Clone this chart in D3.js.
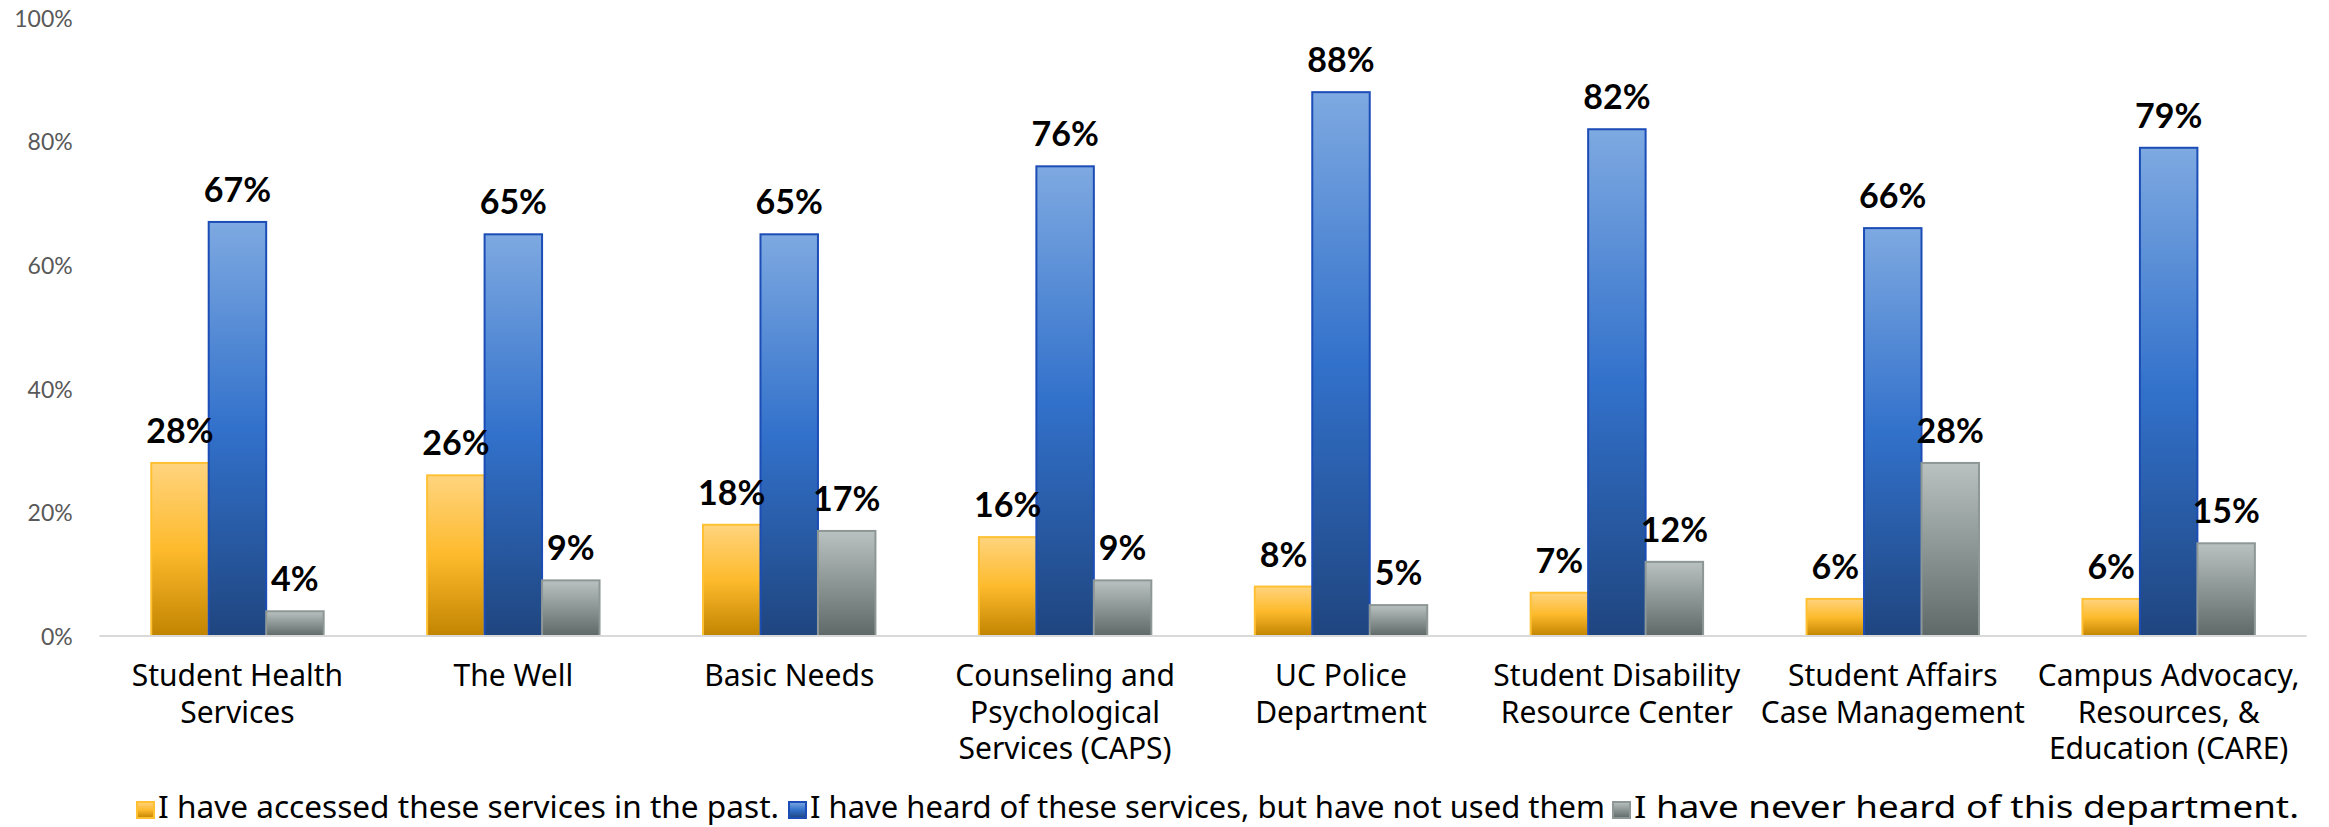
<!DOCTYPE html>
<html>
<head>
<meta charset="utf-8">
<script src="https://cdn.jsdelivr.net/npm/d3@7"></script>
<style>
  html, body { margin: 0; padding: 0; background: #ffffff; }
  svg { display: block; }
</style>
</head>
<body>
<svg id="chart" width="2329" height="827"></svg>
<script>
// ---- data ----
const categories = [
  "Student Health\nServices",
  "The Well",
  "Basic Needs",
  "Counseling and\nPsychological\nServices (CAPS)",
  "UC Police\nDepartment",
  "Student Disability\nResource Center",
  "Student Affairs\nCase Management",
  "Campus Advocacy,\nResources, &\nEducation (CARE)"
];
const seriesNames = [
  "I have accessed these services in the past.",
  "I have heard of these services, but have not used them",
  "I have never heard of this department."
];
const accessed   = [28, 26, 18, 16, 8, 7, 6, 6];
const heardOf    = [67, 65, 65, 76, 88, 82, 66, 79];
const neverHeard = [4, 9, 17, 9, 5, 12, 28, 15];
const yTicks = [0, 20, 40, 60, 80, 100];

const seriesValues = [accessed, heardOf, neverHeard];
const seriesKeys = ["s0", "s1", "s2"];

// ---- layout ----
const W = 2329, H = 827;
const plotLeft = 99.5, plotRight = 2306.6, plotTop = 18, plotBottom = 636;
const legendX = [137, 789, 1613];       // legend item left edges (layout)
const legendTextW = [621, 795, 665];    // legend text widths (layout)

const svg = d3.select("#chart");

// gradients
const defs = svg.append("defs");
const gradSpecs = [
  { id: "g0", stops: [[0, "#FFD47E"], [0.5, "#FDBA2C"], [1, "#C28400"]], stroke: "#FFC133" },
  { id: "g1", stops: [[0, "#7EA9E1"], [0.5, "#3271CB"], [1, "#1F457F"]], stroke: "#1C4DB6" },
  { id: "g2", stops: [[0, "#B9C2C1"], [1, "#5E6968"]], stroke: "#8D9796" }
];
gradSpecs.forEach(g => {
  const lg = defs.append("linearGradient").attr("id", g.id)
    .attr("x1", 0).attr("y1", 0).attr("x2", 0).attr("y2", 1);
  g.stops.forEach(s => lg.append("stop").attr("offset", s[0]).attr("stop-color", s[1]));
});

const x0 = d3.scaleBand().domain(d3.range(categories.length))
  .range([plotLeft, plotRight]).paddingInner(0.375).paddingOuter(0.1875);
const x1 = d3.scaleBand().domain(seriesKeys).range([0, x0.bandwidth()]).padding(0);
const y = d3.scaleLinear().domain([0, 100]).range([plotBottom, plotTop]);

// y-axis labels
const yAxis = d3.axisLeft(y).tickValues(yTicks).tickFormat(d => d + "%").tickSize(0).tickPadding(0);
const yg = svg.append("g").attr("transform", `translate(${72.7},0)`).call(yAxis);
yg.select(".domain").remove();
yg.selectAll("text")
  .attr("font-family", "Lato, 'Noto Sans', sans-serif")
  .attr("font-size", 23)
  .attr("fill", "#595959")
  .attr("dy", "0.36em");

// bars
const groups = svg.append("g").selectAll("g")
  .data(categories.map((c, i) => i))
  .join("g")
  .attr("transform", i => `translate(${x0(i)},0)`);

groups.selectAll("rect")
  .data(i => seriesKeys.map((k, s) => ({ k, s, v: seriesValues[s][i] })))
  .join("rect")
  .attr("x", d => x1(d.k))
  .attr("y", d => y(d.v))
  .attr("width", x1.bandwidth())
  .attr("height", d => y(0) - y(d.v))
  .attr("fill", d => `url(#${gradSpecs[d.s].id})`)
  .attr("stroke", d => gradSpecs[d.s].stroke)
  .attr("stroke-width", 2);

// x-axis baseline
const xAxis = d3.axisBottom(x0).tickSize(0).tickFormat("");
const xg = svg.append("g").attr("transform", `translate(0,${plotBottom})`).call(xAxis);
xg.select(".domain").attr("stroke", "#D9D9D9").attr("stroke-width", 2)
  .attr("d", `M${plotLeft},0H${plotRight}`);

// value labels
groups.selectAll("text.val")
  .data(i => seriesKeys.map((k, s) => ({ k, s, v: seriesValues[s][i] })))
  .join("text")
  .attr("class", "val")
  .attr("x", d => x1(d.k) + x1.bandwidth() / 2)
  .attr("y", d => y(d.v) - 20)
  .attr("text-anchor", "middle")
  .attr("font-family", "Lato, 'Noto Sans', sans-serif")
  .attr("font-weight", "bold")
  .attr("font-size", 34)
  .attr("fill", "#000000")
  .text(d => d.v + "%");

// category labels
const catG = svg.append("g");
categories.forEach((c, i) => {
  const t = catG.append("text")
    .attr("x", x0(i) + x0.bandwidth() / 2)
    .attr("y", 686)
    .attr("text-anchor", "middle")
    .attr("font-family", "'Noto Sans', sans-serif")
    .attr("font-size", 30)
    .attr("fill", "#000000");
  c.split("\n").forEach((line, li) => {
    t.append("tspan")
      .attr("x", x0(i) + x0.bandwidth() / 2)
      .attr("dy", li === 0 ? 0 : 36.7)
      .text(line);
  });
});

// legend
const legend = svg.append("g");
seriesNames.forEach((name, s) => {
  const lx = legendX[s];
  legend.append("rect")
    .attr("x", lx).attr("y", 802)
    .attr("width", 17).attr("height", 16)
    .attr("fill", `url(#${gradSpecs[s].id})`)
    .attr("stroke", gradSpecs[s].stroke)
    .attr("stroke-width", 2);
  legend.append("text")
    .attr("x", lx + 21).attr("y", 818)
    .attr("font-family", "'Noto Sans', sans-serif")
    .attr("font-size", 31)
    .attr("fill", "#000000")
    .attr("textLength", legendTextW[s])
    .attr("lengthAdjust", "spacingAndGlyphs")
    .text(name);
});
</script>
</body>
</html>
